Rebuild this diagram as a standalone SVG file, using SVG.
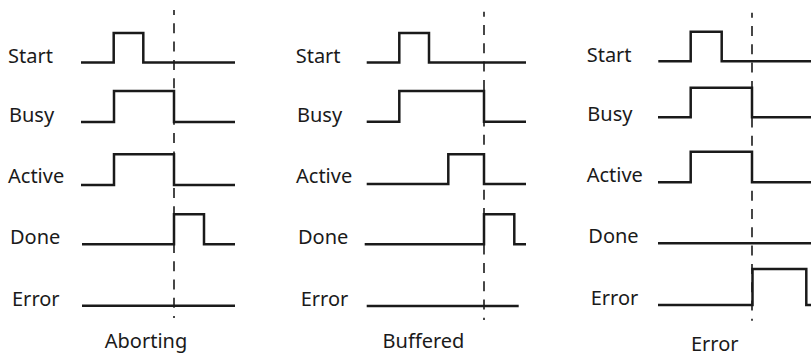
<svg xmlns="http://www.w3.org/2000/svg" width="811" height="357" viewBox="0 0 811 357">
<style>
.sig{fill:none;stroke:#1a1a1a;stroke-width:2.5;stroke-linejoin:miter;stroke-linecap:butt}
.dash{fill:none;stroke:#1a1a1a;stroke-width:1.6;stroke-dasharray:10 8.3;stroke-dashoffset:5}
.lbl{font-family:"Noto Sans","Open Sans","DejaVu Sans",sans-serif;font-size:20px;fill:#1a1a1a}
.cap{font-family:"Noto Sans","Open Sans","DejaVu Sans",sans-serif;font-size:20px;fill:#1a1a1a;text-anchor:middle}
</style>
<rect width="811" height="357" fill="#ffffff"/>
<g id="panel-aborting">
  <g id="a-labels">
    <text class="lbl" x="8" y="63.3">Start</text>
    <text class="lbl" x="9" y="122">Busy</text>
    <text class="lbl" x="8" y="183.3">Active</text>
    <text class="lbl" x="10" y="244">Done</text>
    <text class="lbl" x="12" y="305.7">Error</text>
    <text class="cap" x="146" y="348">Aborting</text>
  </g>
  <g id="a-signals">
    <path class="sig" d="M81,62.5 H113.7 V33 H143.3 V62.5 H235"/>
    <path class="sig" d="M81,122 H114 V91 H174 V122 H235"/>
    <path class="sig" d="M81,185 H114 V154.3 H174 V185 H235"/>
    <path class="sig" d="M82,244.3 H174 V214.3 H204 V244.3 H235"/>
    <path class="sig" d="M82,305.7 H235"/>
  </g>
  <line class="dash" x1="174" y1="10" x2="174" y2="318"/>
</g>
<g id="panel-buffered">
  <g id="b-labels">
    <text class="lbl" x="295.7" y="63.3">Start</text>
    <text class="lbl" x="297" y="122">Busy</text>
    <text class="lbl" x="296" y="183.3">Active</text>
    <text class="lbl" x="298" y="244">Done</text>
    <text class="lbl" x="300.7" y="306">Error</text>
    <text class="cap" x="423.5" y="348">Buffered</text>
  </g>
  <g id="b-signals">
    <path class="sig" d="M366.7,62.5 H399.3 V33 H429 V62.5 H526"/>
    <path class="sig" d="M366.7,121.7 H399.3 V91 H484 V121.7 H526"/>
    <path class="sig" d="M366.7,184 H448.3 V154.3 H484 V184 H526"/>
    <path class="sig" d="M364.7,244.3 H484 V214.3 H514.3 V244.3 H526"/>
    <path class="sig" d="M366.7,306 H518.7"/>
  </g>
  <line class="dash" x1="484" y1="11.7" x2="484" y2="320"/>
</g>
<g id="panel-error">
  <g id="e-labels">
    <text class="lbl" x="586.7" y="62.3">Start</text>
    <text class="lbl" x="587.3" y="120.7">Busy</text>
    <text class="lbl" x="586.7" y="182.3">Active</text>
    <text class="lbl" x="588.3" y="242.7">Done</text>
    <text class="lbl" x="590.7" y="305">Error</text>
    <text class="cap" x="714.7" y="351">Error</text>
  </g>
  <g id="e-signals">
    <path class="sig" d="M658.3,61.3 H690.7 V31.7 H721.7 V61.3 H811"/>
    <path class="sig" d="M658,117.3 H690.7 V87.7 H752 V117.3 H811"/>
    <path class="sig" d="M658,182.3 H690.7 V151.7 H752 V182.3 H811"/>
    <path class="sig" d="M658,243.3 H811"/>
    <path class="sig" d="M658,305 H752.5 V269 H806.3 V305 H811"/>
  </g>
  <line class="dash" x1="752" y1="12.7" x2="752" y2="320.7"/>
</g>
</svg>
